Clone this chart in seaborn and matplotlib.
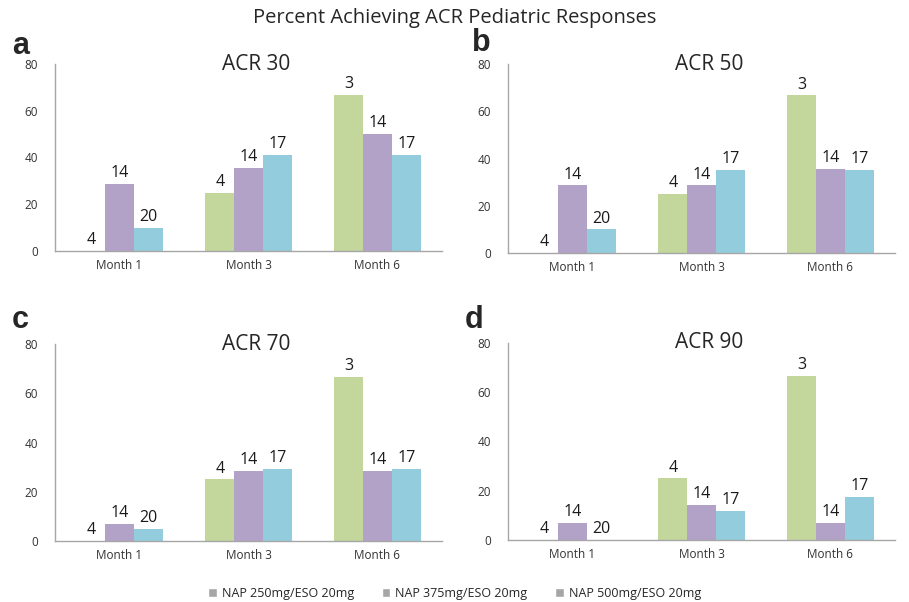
import numpy as np
import pandas as pd
import matplotlib.pyplot as plt
import seaborn as sns
from matplotlib.patches import Patch

months = ["Month 1", "Month 3", "Month 6"]
groups = ["NAP 250mg/ESO 20mg", "NAP 375mg/ESO 20mg", "NAP 500mg/ESO 20mg"]
colors = ["#C3D69B", "#B3A2C7", "#93CDDD"]

# n per bar (label above each bar): rows = group, cols = month
n_labels = [
    [4, 4, 3],
    [14, 14, 14],
    [20, 17, 17],
]

panels = ["ACR 30", "ACR 50", "ACR 70", "ACR 90"]
letters = ["a", "b", "c", "d"]

# percent achieving response, rows = group, cols = month
acr30 = [[0, 25.0, 66.7], [28.6, 35.7, 50.0], [10.0, 41.2, 41.2]]
acr50 = [[0, 25.0, 66.7], [28.6, 28.6, 35.7], [10.0, 35.3, 35.3]]
acr70 = [[0, 25.0, 66.7], [7.1, 28.6, 28.6], [5.0, 29.4, 29.4]]
acr90 = [[0, 25.0, 66.7], [7.1, 14.3, 7.1], [0, 11.8, 17.6]]
panel_values = [acr30, acr50, acr70, acr90]

sns.set_theme(style="white")
plt.rcParams["font.family"] = ["Open Sans", "DejaVu Sans"]

fig = plt.figure(figsize=(9.09, 6.02), dpi=100)
W, H = 909, 602
# axes boxes in pixels: left, top, right, bottom
boxes = [(55, 64, 442, 251), (508, 64, 895, 253), (55, 344, 442, 541), (508, 343, 895, 540)]
# panel letter centres in pixels
letter_pos = [(12, 46), (472, 43), (12, 320), (465, 320)]

spine_col = "#A6A6A6"
for vals, title, letter, (l, t, r, b), (lx, ly) in zip(panel_values, panels, letters, boxes, letter_pos):
    ax = fig.add_axes([l / W, 1 - b / H, (r - l) / W, (b - t) / H])
    rows = []
    for gi, g in enumerate(groups):
        for mi, m in enumerate(months):
            rows.append({"Month": m, "Group": g, "Percent": vals[gi][mi], "n": n_labels[gi][mi]})
    df = pd.DataFrame(rows)
    sns.barplot(data=df, x="Month", y="Percent", hue="Group", order=months, hue_order=groups,
                palette=colors, width=0.67, errorbar=None, ax=ax, legend=False,
                saturation=1, linewidth=0)
    for gi, cont in enumerate(ax.containers):
        ax.bar_label(cont, labels=[str(v) for v in n_labels[gi]], padding=2, fontsize=11.5, color="#1a1a1a")
    ax.set_xlim(-0.5, 2.5)
    ax.set_ylim(0, 80)
    ax.set_yticks([0, 20, 40, 60, 80])
    ax.set_xlabel("")
    ax.set_ylabel("")
    ax.tick_params(axis="both", labelsize=8.5, colors="#333333", length=0, pad=6)
    ax.set_xticks([-0.5, 0.5, 1.5, 2.5], minor=True)
    ax.tick_params(axis="x", which="minor", length=4, color=spine_col, width=1, direction="out")
    ax.tick_params(axis="y", which="major", length=4, color=spine_col, width=1, direction="out", pad=8)
    for s in ["top", "right"]:
        ax.spines[s].set_visible(False)
    for s in ["left", "bottom"]:
        ax.spines[s].set_color(spine_col)
        ax.spines[s].set_linewidth(1)
    ax.text(0.52, 1.0, title, transform=ax.transAxes, ha="center", va="center", fontsize=15)
    fig.text(lx / W, 1 - ly / H, letter, fontsize=22, fontweight="bold",
             family="Liberation Sans", ha="left", va="center")

fig.text(0.5, 1 - 18 / H, "Percent Achieving ACR Pediatric Responses", ha="center", va="center", fontsize=14.5)

handles = [Patch(facecolor="#A6A6A6", label=g) for g in groups]
fig.legend(handles=handles, loc="center", bbox_to_anchor=(0.5, 1 - 593 / H), ncol=3, frameon=False,
           fontsize=9, handlelength=0.7, handleheight=0.7, columnspacing=2.2, handletextpad=0.4)

fig.savefig("out.png", dpi=100)
